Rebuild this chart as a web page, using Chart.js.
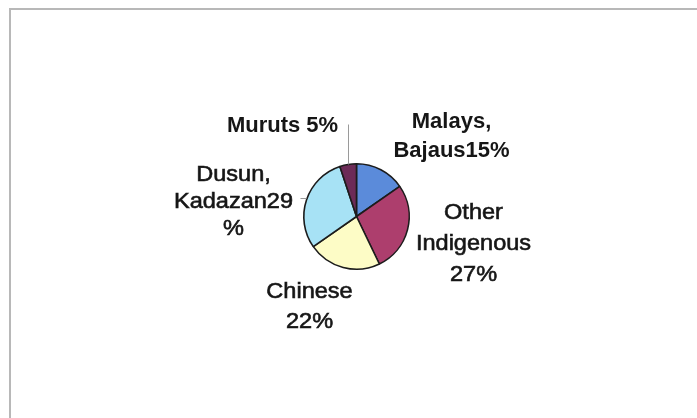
<!DOCTYPE html>
<html>
<head>
<meta charset="utf-8">
<script src="https://cdn.jsdelivr.net/npm/chart.js@4.4.1/dist/chart.umd.min.js"></script>
<style>
    html, body { margin: 0; padding: 0; background: #fff; }
    .frame {
        position: absolute; left: 9px; top: 8px; right: 0; bottom: 0;
        border-top: 2px solid #b8b8b8;
        border-left: 2px solid #b8b8b8;
    }
    .chart-container { position: absolute; left: 0; top: 0; width: 697px; height: 418px; }
</style>
</head>
<body>
<div class="frame"></div>
<div class="chart-container"><canvas id="ethnicChart"></canvas></div>
<script>
const groups = ['Malays, Bajaus', 'Other Indigenous', 'Chinese', 'Dusun, Kadazan', 'Muruts'];
const shares = [15, 27, 22, 29, 5];
const sliceColors = ['#5b8bda', '#ad3e6d', '#fdfcc6', '#a7e2f5', '#6c2b57'];

// how each label is broken into lines, as in the original
const labelLines = [
    ['Malays,', `Bajaus${shares[0]}%`],
    ['Other', 'Indigenous', `${shares[1]}%`],
    ['Chinese', `${shares[2]}%`],
    ['Dusun,', `Kadazan${shares[3]}`, '%'],
    [`Muruts ${shares[4]}%`]
];

// label placement relative to pie centre: centre x, first baseline, bold, leader
const labelStyle = [
    { dx: 95, dy: -89, bold: true },
    { dx: 117, dy: 2, lh: 31 },
    { dx: -47, dy: 81, lh: 30 },
    { dx: -123, dy: -36, lh: 27, leader: 'left' },
    { dx: -74, dy: -85, bold: true, leader: 'up' }
];

const outsideLabels = {
    id: 'outsideLabels',
    afterDatasetsDraw(chart) {
        const ctx = chart.ctx;
        const arcs = chart.getDatasetMeta(0).data;
        const cx = arcs[0].x, cy = arcs[0].y;
        ctx.save();
        arcs.forEach((arc, i) => {
            const st = labelStyle[i];
            const mid = (arc.startAngle + arc.endAngle) / 2;
            const ex = cx + Math.cos(mid) * arc.outerRadius;
            const ey = cy + Math.sin(mid) * arc.outerRadius;
            ctx.strokeStyle = '#9a9a9a';
            ctx.lineWidth = 1;
            if (st.leader === 'up') {
                ctx.beginPath();
                ctx.moveTo(Math.round(ex) + 0.5, ey);
                ctx.lineTo(Math.round(ex) + 0.5, cy + st.dy - 7);
                ctx.stroke();
            } else if (st.leader === 'left') {
                ctx.beginPath();
                ctx.moveTo(ex, Math.round(ey) - 1.5);
                ctx.lineTo(ex - 6, Math.round(ey) - 1.5);
                ctx.stroke();
            }
            ctx.fillStyle = '#161616';
            ctx.strokeStyle = '#161616';
            ctx.lineWidth = 0.6;
            ctx.textAlign = 'center';
            ctx.textBaseline = 'alphabetic';
            ctx.font = (st.bold ? 'bold 22px' : '22px') + ' "Liberation Sans", Arial, sans-serif';
            const sx = st.bold ? 1.0 : 1.07;
            labelLines[i].forEach((line, k) => {
                ctx.save();
                ctx.translate(cx + st.dx, cy + st.dy + k * (st.lh || 29));
                ctx.scale(sx, 1);
                ctx.fillText(line, 0, 0);
                if (!st.bold) ctx.strokeText(line, 0, 0);
                ctx.restore();
            });
        });
        ctx.restore();
    }
};

new Chart(document.getElementById('ethnicChart'), {
    type: 'pie',
    data: {
        labels: groups,
        datasets: [{
            data: shares,
            backgroundColor: sliceColors,
            borderColor: '#1c1c1c',
            borderWidth: 1.6,
            hoverOffset: 0
        }]
    },
    options: {
        responsive: true,
        maintainAspectRatio: false,
        animation: false,
        layout: { padding: { left: 303, right: 287, top: 163, bottom: 148 } },
        plugins: {
            legend: { display: false },
            tooltip: { enabled: false }
        }
    },
    plugins: [outsideLabels]
});
</script>
</body>
</html>
